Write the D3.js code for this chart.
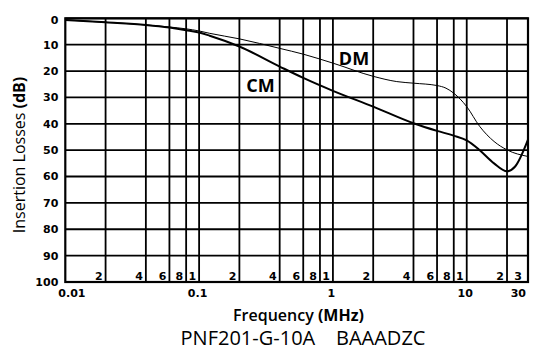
<!DOCTYPE html>
<html>
<head>
<meta charset="utf-8">
<script src="https://cdn.jsdelivr.net/npm/d3@7"></script>
<style>
  html, body { margin: 0; padding: 0; background: #fff; }
  svg { display: block; }
  .tick { font-family: "DejaVu Sans", sans-serif; font-weight: bold; font-size: 11px; }
  .title { font-family: "Open Sans", sans-serif; }
</style>
</head>
<body>
<svg width="539" height="351"></svg>
<script>
// y axis ticks (dB)
const lossTicks = [0, 10, 20, 30, 40, 50, 60, 70, 80, 90, 100]

// vertical grid lines and their small labels along the bottom row
const gridFreqs = [0.02, 0.04, 0.06, 0.08, 0.1, 0.2, 0.4, 0.6, 0.8, 1, 2, 4, 6, 8, 10, 20, 30]
const gridLabels = ['2', '4', '6', '8', '1', '2', '4', '6', '8', '1', '2', '4', '6', '8', '1', '2', '3']

// main x labels
const freqTicks = [0.01, 0.1, 1, 10, 30]
const freqTickLabels = ['0.01', '0.1', '1', '10', '30']

// CM curve
const cmFreq = [0.01, 0.02, 0.04, 0.06, 0.08, 0.1, 0.12, 0.2, 0.4, 0.6, 1, 2, 4, 6, 8, 10, 12.5, 16, 20, 23, 28.7]
const cmLoss = [0.6, 1.5, 2.5, 3.5, 4.5, 5.4, 6.6, 10.7, 18.3, 22.6, 27.5, 33.5, 39.8, 42.7, 44.5, 46.3, 50, 55, 58, 56.2, 46]

// DM curve
const dmFreq = [0.01, 0.02, 0.04, 0.06, 0.08, 0.1, 0.12, 0.2, 0.4, 0.6, 1, 2, 3, 4, 6, 7, 8, 10, 12.5, 16, 20, 28.7]
const dmLoss = [0.6, 1.5, 2.5, 3.3, 4.0, 4.8, 5.7, 7.8, 11.4, 13.6, 17, 22, 24, 24.6, 25.5, 26.5, 28.4, 33.5, 41, 46.7, 49.9, 52.4]

const plotL = 65.3, plotR = 528, plotT = 18.3, plotB = 282
const fMin = 0.01, fMax = 28.7

const svg = d3.select('svg')
const x = d3.scaleLog().domain([fMin, fMax]).range([plotL, plotR])
const y = d3.scaleLinear().domain([0, 100]).range([plotT, plotB])
const xc = (f) => Math.min(x(f), plotR)

const grid = svg.append('g').attr('stroke', '#000').attr('stroke-width', 1.8)

// horizontal grid
grid.selectAll('line.h')
  .data(lossTicks)
  .join('line')
  .attr('class', 'h')
  .attr('x1', plotL).attr('x2', plotR)
  .attr('y1', (d) => y(d)).attr('y2', (d) => y(d))

// vertical grid
grid.selectAll('line.v')
  .data(gridFreqs)
  .join('line')
  .attr('class', 'v')
  .attr('x1', xc).attr('x2', xc)
  .attr('y1', plotT).attr('y2', plotB)

// frame
grid.append('rect')
  .attr('x', plotL).attr('y', plotT)
  .attr('width', plotR - plotL).attr('height', plotB - plotT)
  .attr('fill', 'none')
  .attr('stroke-width', 2.2)

// y tick labels
svg.append('g').selectAll('text')
  .data(lossTicks)
  .join('text')
  .attr('class', 'tick')
  .attr('x', plotL - 7)
  .attr('y', (d) => y(d) + (d === 0 ? 2 : 0))
  .attr('dy', '0.36em')
  .attr('text-anchor', 'end')
  .text((d) => d)

// small labels inside bottom row
svg.append('g').selectAll('text')
  .data(gridFreqs)
  .join('text')
  .attr('class', 'tick')
  .attr('x', (d) => xc(d) - (d > fMax ? 6 : 3))
  .attr('y', plotB - 2)
  .attr('text-anchor', 'end')
  .text((d, i) => gridLabels[i])

// main x labels
svg.append('g').selectAll('text')
  .data(freqTicks)
  .join('text')
  .attr('class', 'tick')
  .attr('x', (d, i) => i === 0 ? x(d) - 7 : (d > fMax ? plotR - 2 : x(d) - 1.5))
  .attr('y', 297)
  .attr('text-anchor', (d, i) => i === 0 ? 'start' : (d > fMax ? 'end' : 'middle'))
  .text((d, i) => freqTickLabels[i])

// curves
const line = d3.line()
  .x((d) => x(d[0]))
  .y((d) => y(d[1]))
  .curve(d3.curveMonotoneX)

svg.append('path')
  .datum(dmFreq.map((f, i) => [f, dmLoss[i]]))
  .attr('fill', 'none')
  .attr('stroke', '#000')
  .attr('stroke-width', 1)
  .attr('d', line)

svg.append('path')
  .datum(cmFreq.map((f, i) => [f, cmLoss[i]]))
  .attr('fill', 'none')
  .attr('stroke', '#000')
  .attr('stroke-width', 2)
  .attr('d', line)

// series labels
svg.append('text')
  .attr('class', 'title')
  .attr('x', 260.5).attr('y', 91.5)
  .attr('text-anchor', 'middle')
  .attr('font-weight', 700).attr('font-size', 18)
  .text('CM')
svg.append('text')
  .attr('class', 'title')
  .attr('x', 354).attr('y', 65)
  .attr('text-anchor', 'middle')
  .attr('font-weight', 700).attr('font-size', 18)
  .text('DM')

// axis titles
const yt = svg.append('text')
  .attr('class', 'title')
  .attr('transform', 'translate(25,155) rotate(-90)')
  .attr('text-anchor', 'middle')
  .attr('font-size', 16)
yt.append('tspan').attr('font-weight', 500).text('Insertion Losses ')
yt.append('tspan').attr('font-weight', 700).text('(dB)')

const xt = svg.append('text')
  .attr('class', 'title')
  .attr('x', 298.5).attr('y', 321)
  .attr('text-anchor', 'middle')
  .attr('font-size', 16)
xt.append('tspan').attr('font-weight', 600).text('Frequency ')
xt.append('tspan').attr('font-weight', 700).text('(MHz)')

svg.append('text')
  .attr('class', 'title')
  .attr('x', 303).attr('y', 345)
  .attr('text-anchor', 'middle')
  .attr('font-size', 20)
  .style('white-space', 'pre')
  .text('PNF201-G-10A    BAAADZC')
</script>
</body>
</html>
